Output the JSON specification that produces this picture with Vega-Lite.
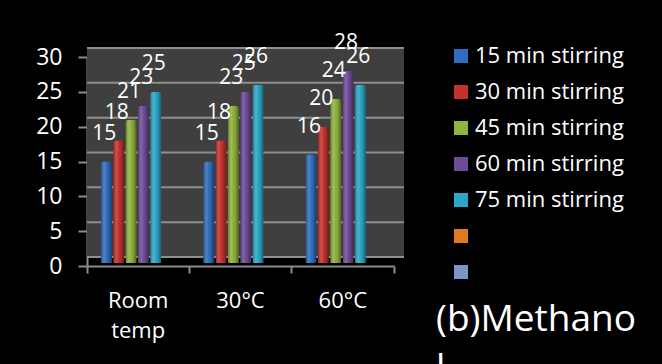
{
  "$schema": "https://vega.github.io/schema/vega-lite/v6.json",
  "autosize": {"type": "none"},
  "width": 307,
  "height": 209,
  "padding": {"left": 87, "top": 57, "right": 268, "bottom": 98},
  "background": "black",
  "config": {
    "font": "Open Sans",
    "view": {"stroke": null},
    "axisY": {
      "grid": false, "title": null, "labelOverlap": false,
      "labelColor": "white", "labelFontSize": 23, "labelPadding": 16,
      "tickSize": 9, "tickColor": "#8c8c8c", "tickWidth": 2,
      "domainColor": "#8c8c8c", "domainWidth": 2
    }
  },
  "datasets": {
    "yields": [
      {"cond": "Room temp", "series": "15 min stirring", "value": 15},
      {"cond": "Room temp", "series": "30 min stirring", "value": 18},
      {"cond": "Room temp", "series": "45 min stirring", "value": 21},
      {"cond": "Room temp", "series": "60 min stirring", "value": 23},
      {"cond": "Room temp", "series": "75 min stirring", "value": 25},
      {"cond": "30°C", "series": "15 min stirring", "value": 15},
      {"cond": "30°C", "series": "30 min stirring", "value": 18},
      {"cond": "30°C", "series": "45 min stirring", "value": 23},
      {"cond": "30°C", "series": "60 min stirring", "value": 25},
      {"cond": "30°C", "series": "75 min stirring", "value": 26},
      {"cond": "60°C", "series": "15 min stirring", "value": 16},
      {"cond": "60°C", "series": "30 min stirring", "value": 20},
      {"cond": "60°C", "series": "45 min stirring", "value": 24},
      {"cond": "60°C", "series": "60 min stirring", "value": 28},
      {"cond": "60°C", "series": "75 min stirring", "value": 26}
    ],
    "wall": [{"lo": 0, "hi": 30}],
    "grid": [{"v": 0}, {"v": 5}, {"v": 10}, {"v": 15}, {"v": 20}, {"v": 25}, {"v": 30}]
  },
  "layer": [
    {
      "data": {"name": "wall"},
      "mark": {"type": "rect", "fill": "#3f3f3f", "xOffset": 10, "x2Offset": 10, "yOffset": -8, "y2Offset": -10},
      "encoding": {
        "y": {"field": "lo", "type": "quantitative", "scale": {"domain": [0, 30], "nice": false},
              "axis": {"values": [0, 5, 10, 15, 20, 25, 30]}},
        "y2": {"field": "hi"}
      }
    },
    {
      "data": {"name": "grid"},
      "mark": {"type": "rule", "color": "#8f8f8f", "strokeWidth": 2, "xOffset": 10, "x2Offset": 10, "yOffset": -9, "y2Offset": -9},
      "encoding": {
        "y": {"field": "v", "type": "quantitative", "axis": {"values": [0, 5, 10, 15, 20, 25, 30]}}
      }
    },
    {
      "data": {"name": "yields"},
      "encoding": {
        "x": {"field": "cond", "type": "nominal", "sort": ["Room temp", "30°C", "60°C"],
              "scale": {"paddingInner": 0, "paddingOuter": 0},
              "axis": {"title": null, "labelAngle": 0, "bandPosition": 1, "tickExtra": true,
                       "labelColor": "white", "labelFontSize": 22, "labelPadding": 17,
                       "labelLineHeight": 30, "labelBaseline": "top",
                       "labelExpr": "datum.value == 'Room temp' ? ['Room', 'temp'] : datum.label",
                       "tickSize": 7, "tickColor": "#8c8c8c", "tickWidth": 2,
                       "domainColor": "#8c8c8c", "domainWidth": 2}},
        "xOffset": {"field": "series", "type": "nominal",
                    "scale": {"domain": ["15 min stirring", "30 min stirring", "45 min stirring", "60 min stirring", "75 min stirring", "Series6", "Series7"],
                              "paddingInner": 0.1, "paddingOuter": 0.7, "align": 0.8}},
        "y": {"field": "value", "type": "quantitative", "axis": {"values": [0, 5, 10, 15, 20, 25, 30]}}
      },
      "layer": [
        {
          "mark": {"type": "bar", "yOffset": -3, "y2Offset": -3, "cornerRadiusTopLeft": 3, "cornerRadiusTopRight": 3},
          "encoding": {
            "color": {"field": "series", "type": "nominal",
                      "scale": {"domain": ["15 min stirring", "30 min stirring", "45 min stirring", "60 min stirring", "75 min stirring", "Series6", "Series7"],
                                "range": ["#2f6dc0", "#c6302b", "#90b33a", "#6e4a99", "#2ba8c8", "#e07a1f", "#7b95c9"]},
                      "legend": {"title": ["(b)Methano", "l"], "titleOrient": "bottom",
                                 "orient": "none", "legendX": 349, "legendY": -12,
                                 "symbolType": "square", "symbolSize": 196, "symbolOffset": 14,
                                 "symbolStrokeWidth": 0, "symbolOpacity": 1,
                                 "labelColor": "white", "labelFontSize": 22, "labelOffset": 3,
                                 "labelLimit": 300, "rowPadding": 14,
                                 "labelExpr": "indexof(['Series6', 'Series7'], datum.label) >= 0 ? '' : datum.label",
                                 "titleColor": "white", "titleFontSize": 37, "titleFontWeight": "normal",
                                 "titleLineHeight": 49, "titleLimit": 400, "titlePadding": 19}}
          }
        },
        {
          "mark": {"type": "bar", "yOffset": -3, "y2Offset": -3, "cornerRadiusTopLeft": 3, "cornerRadiusTopRight": 3,
                   "fill": {"gradient": "linear", "x1": 0, "x2": 1, "y1": 0, "y2": 0,
                            "stops": [{"offset": 0, "color": "rgba(0,0,0,0.35)"},
                                      {"offset": 0.35, "color": "rgba(255,255,255,0.14)"},
                                      {"offset": 0.65, "color": "rgba(0,0,0,0.05)"},
                                      {"offset": 1, "color": "rgba(0,0,0,0.45)"}]}}
        },
        {
          "mark": {"type": "text", "color": "white", "fontSize": 21, "baseline": "alphabetic", "dy": -22, "dx": -2},
          "encoding": {"text": {"field": "value", "type": "quantitative"}}
        }
      ]
    }
  ]
}
